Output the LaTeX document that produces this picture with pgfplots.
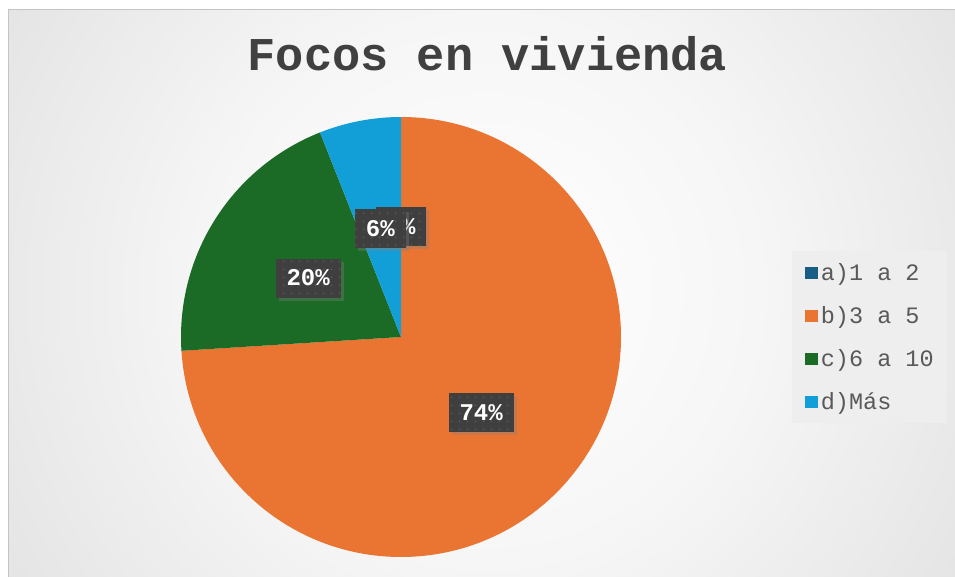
\documentclass[border=0pt]{standalone}
\usepackage{pgfplots}
\pgfplotsset{compat=1.18}
\usepackage{pgfplotstable}
\usepackage{fontspec}
\setmainfont{Liberation Sans}
\newfontfamily\mono{Liberation Mono}
\usetikzlibrary{shadows,patterns.meta}

\definecolor{colA}{HTML}{185E84}
\definecolor{colB}{HTML}{EA7432}
\definecolor{colC}{HTML}{1B6B27}
\definecolor{colD}{HTML}{129FD8}
\definecolor{titlecol}{HTML}{404040}
\definecolor{legtext}{HTML}{595959}
\definecolor{legbg}{HTML}{EEEEEE}
\definecolor{lblbg}{HTML}{3F3F3F}
\definecolor{lbldot}{HTML}{575757}
\definecolor{bgmid}{HTML}{F6F6F6}
\definecolor{bgedge}{HTML}{C0C0C0}
\definecolor{framecol}{HTML}{C4C4C4}

\pgfdeclareradialshading{bgshade}{\pgfpoint{0bp}{0bp}}{%
  color(0bp)=(white); color(12bp)=(bgmid); color(50bp)=(bgedge)}

\tikzdeclarepattern{
  name=lbldots, type=uncolored,
  bottom left={(0bp,0bp)}, top right={(8bp,8bp)}, tile size={(8bp,8bp)},
  code={\fill (4bp,4bp) circle (1.1bp);}}

% porcentaje de viviendas por numero de focos
\pgfplotstableread{
cat pct
a 0
b 74
c 20
d 6
}\focos

\pgfplotstablegetelem{0}{pct}\of\focos\edef\pA{\pgfplotsretval}
\pgfplotstablegetelem{1}{pct}\of\focos\edef\pB{\pgfplotsretval}
\pgfplotstablegetelem{2}{pct}\of\focos\edef\pC{\pgfplotsretval}
\pgfplotstablegetelem{3}{pct}\of\focos\edef\pD{\pgfplotsretval}
\pgfmathsetmacro\sA{90}
\pgfmathsetmacro\eA{\sA-3.6*\pA}
\pgfmathsetmacro\eB{\eA-3.6*\pB}
\pgfmathsetmacro\eC{\eB-3.6*\pC}
\pgfmathsetmacro\eD{\eC-3.6*\pD}
\pgfmathsetmacro\mA{(\sA+\eA)/2}
\pgfmathsetmacro\mB{(\eA+\eB)/2}
\pgfmathsetmacro\mC{(\eB+\eC)/2}
\pgfmathsetmacro\mD{(\eC+\eD)/2}

\newcommand\slice[3]{\fill[#3] (0,0) -- ({cos(#1)},{sin(#1)}) arc[start angle=#1, end angle=#2, radius=220bp] -- cycle;}
\newcommand\plabel[2]{\node[lbl] at ({0.5*cos(#1)},{0.5*sin(#1)}) {#2\%};}

\begin{document}
\begin{tikzpicture}[
  lbl/.style={fill=lblbg, text=white,
    font=\mono\bfseries\fontsize{24bp}{28bp}\selectfont,
    inner xsep=11bp, inner ysep=0pt, minimum height=39bp,
    drop shadow={shadow xshift=3bp, shadow yshift=-3bp, opacity=0.35},
    postaction={pattern=lbldots, pattern color=lbldot}}]
  \fill[white] (0,0) rectangle (955bp,577bp);
  \begin{scope}
    \clip (8bp,0bp) rectangle (955bp,567bp);
    \shade[shading=bgshade] (-85bp,-283bp) rectangle (1055bp,857bp);
  \end{scope}
  \draw[framecol, line width=1bp] (8bp,-2bp) -- (8bp,567bp) -- (957bp,567bp);

  \node[anchor=base, text=titlecol,
    font=\mono\bfseries\fontsize{47bp}{56bp}\selectfont] at (487.5bp,506bp) {Focos en vivienda};

  \begin{axis}[
    at={(181bp,20bp)}, anchor=south west,
    scale only axis, width=440bp, height=440bp,
    xmin=-1, xmax=1, ymin=-1, ymax=1,
    hide axis, clip=false,
    legend style={at={(axis description cs:1.389,0.695)}, anchor=north west,
      draw=none, fill=legbg, inner xsep=13bp, inner ysep=0pt,
      row sep=0pt, column sep=3bp,
      font=\mono\fontsize{23.5bp}{28bp}\selectfont,
      nodes={inner sep=0pt, minimum height=43bp, text=legtext}},
    legend cell align=left,
    legend image code/.code={\fill[#1] (0bp,-6.25bp) rectangle (12.5bp,6.25bp);},
  ]
    \slice{\sA}{\eA}{colA}
    \slice{\eA}{\eB}{colB}
    \slice{\eB}{\eC}{colC}
    \slice{\eC}{\eD}{colD}

    \plabel{\mA}{\pA}
    \plabel{\mB}{\pB}
    \plabel{\mC}{\pC}
    \plabel{\mD}{\pD}

    \addlegendimage{fill=colA, draw=none}
    \addlegendentry{a)1 a 2}
    \addlegendimage{fill=colB, draw=none}
    \addlegendentry{b)3 a 5}
    \addlegendimage{fill=colC, draw=none}
    \addlegendentry{c)6 a 10}
    \addlegendimage{fill=colD, draw=none}
    \addlegendentry{d)Más}
  \end{axis}
  \pgfresetboundingbox
  \useasboundingbox (0,0) rectangle (955bp,577bp);
\end{tikzpicture}
\end{document}
